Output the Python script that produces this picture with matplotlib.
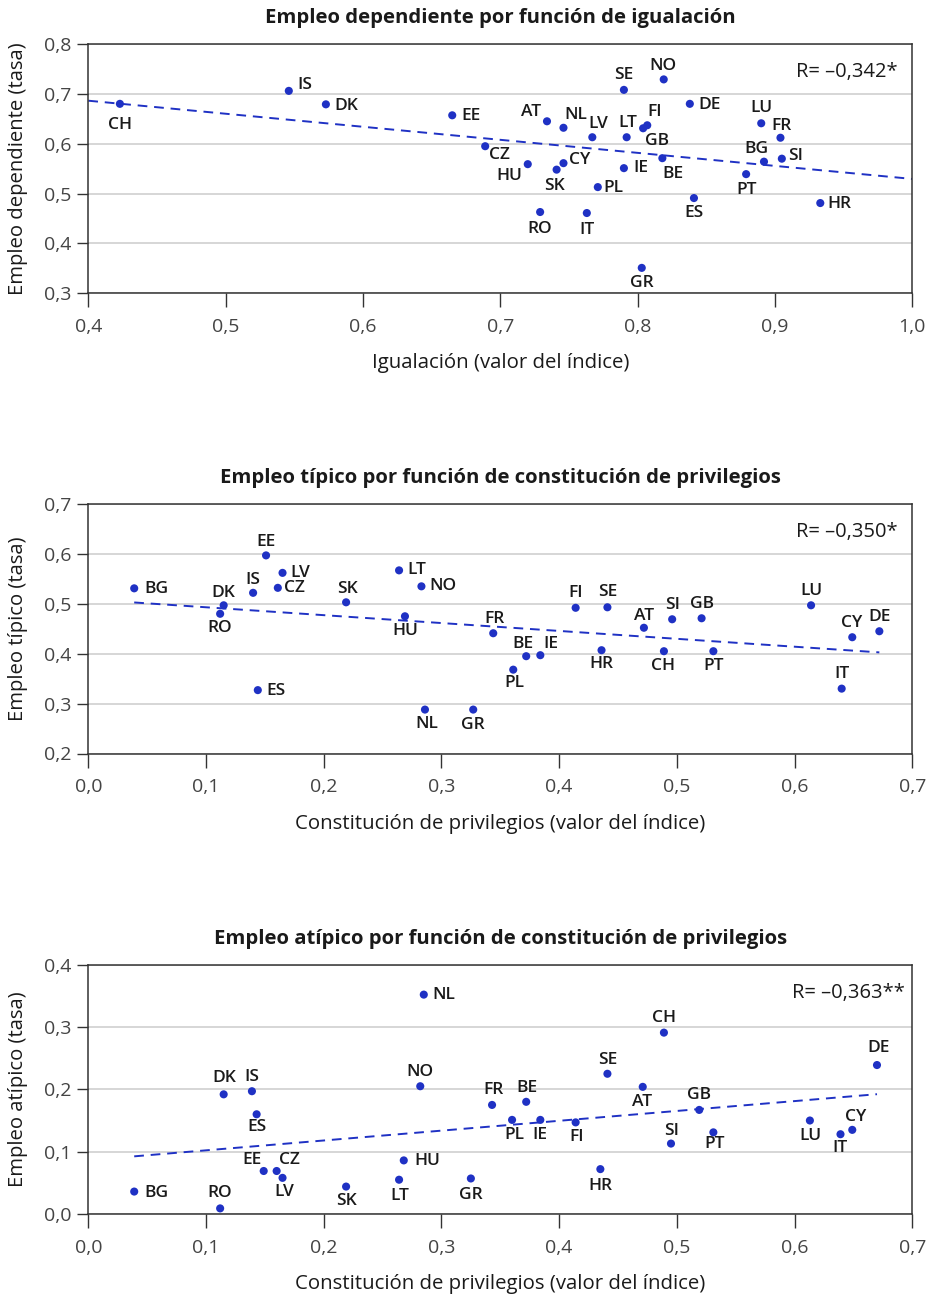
import numpy as np
import matplotlib
matplotlib.use("Agg")
import matplotlib.pyplot as plt
from matplotlib.ticker import FuncFormatter, MultipleLocator

plt.rcParams['font.family'] = ['Open Sans', 'DejaVu Sans']

# ---------------- DATA ----------------
# Panel 1: Empleo dependiente vs Igualación
p1_countries = ["CH", "IS", "DK", "EE", "CZ", "HU", "SK", "CY", "AT", "NL", "LV", "RO", "IT",
                "PL", "IE", "SE", "LT", "NO", "FI", "GB", "GR", "BE", "DE", "ES", "LU", "PT",
                "BG", "SI", "FR", "HR"]
p1_x = [0.423, 0.546, 0.573, 0.665, 0.689, 0.720, 0.741, 0.746, 0.734, 0.746, 0.767, 0.729, 0.763,
        0.771, 0.790, 0.790, 0.792, 0.819, 0.807, 0.804, 0.803, 0.818, 0.838, 0.841, 0.890, 0.879,
        0.892, 0.905, 0.904, 0.933]
p1_y = [0.680, 0.706, 0.679, 0.657, 0.595, 0.559, 0.548, 0.561, 0.645, 0.632, 0.613, 0.463, 0.461,
        0.513, 0.551, 0.708, 0.613, 0.729, 0.637, 0.631, 0.351, 0.571, 0.680, 0.491, 0.641, 0.539,
        0.564, 0.570, 0.612, 0.481]
p1_r_text = "R= \u20130,342*"

# Panel 2: Empleo típico vs Constitución de privilegios
p2_countries = ["BG", "DK", "RO", "IS", "ES", "EE", "LV", "CZ", "SK", "LT", "NO", "HU", "NL", "GR",
                "FR", "PL", "BE", "IE", "FI", "SE", "HR", "AT", "CH", "SI", "GB", "PT", "LU", "CY",
                "DE", "IT"]
p2_x = [0.039, 0.115, 0.112, 0.140, 0.144, 0.151, 0.165, 0.161, 0.219, 0.264, 0.283, 0.269, 0.286,
        0.327, 0.344, 0.361, 0.372, 0.384, 0.414, 0.441, 0.436, 0.472, 0.489, 0.496, 0.521, 0.531,
        0.614, 0.649, 0.672, 0.640]
p2_y = [0.531, 0.497, 0.480, 0.522, 0.327, 0.597, 0.562, 0.532, 0.503, 0.567, 0.535, 0.475, 0.288,
        0.288, 0.441, 0.368, 0.395, 0.397, 0.492, 0.493, 0.407, 0.452, 0.405, 0.469, 0.471, 0.405,
        0.497, 0.433, 0.445, 0.330]
p2_r_text = "R= \u20130,350*"

# Panel 3: Empleo atípico vs Constitución de privilegios
p3_countries = ["BG", "RO", "DK", "IS", "ES", "EE", "CZ", "LV", "SK", "LT", "HU", "NO", "NL", "GR",
                "FR", "PL", "BE", "IE", "FI", "HR", "SE", "AT", "CH", "SI", "GB", "PT", "LU", "IT",
                "CY", "DE"]
p3_x = [0.039, 0.112, 0.115, 0.139, 0.143, 0.149, 0.160, 0.165, 0.219, 0.264, 0.268, 0.282, 0.285,
        0.325, 0.343, 0.360, 0.372, 0.384, 0.414, 0.435, 0.441, 0.471, 0.489, 0.495, 0.519, 0.531,
        0.613, 0.639, 0.649, 0.670]
p3_y = [0.036, 0.009, 0.192, 0.197, 0.160, 0.069, 0.069, 0.058, 0.044, 0.055, 0.086, 0.205, 0.352,
        0.057, 0.175, 0.151, 0.180, 0.151, 0.147, 0.072, 0.225, 0.204, 0.291, 0.113, 0.167, 0.131,
        0.150, 0.128, 0.135, 0.239]
p3_r_text = "R= \u20130,363**"

titles = ["Empleo dependiente por función de igualación",
          "Empleo típico por función de constitución de privilegios",
          "Empleo atípico por función de constitución de privilegios"]
xlabels = ["Igualación (valor del índice)",
           "Constitución de privilegios (valor del índice)",
           "Constitución de privilegios (valor del índice)"]
ylabels = ["Empleo dependiente (tasa)", "Empleo típico (tasa)", "Empleo atípico (tasa)"]

# ---------------- LABEL OFFSETS (pixels, +y = down) ----------------
p1_off = {"CH": (0, 21), "IS": (16, -6), "DK": (20, 2), "EE": (19, 1), "CZ": (14, 9),
          "HU": (-18, 12), "SK": (-2, 16), "CY": (16, -3), "AT": (-16, -9), "NL": (12, -13),
          "LV": (6, -13), "RO": (0, 17), "IT": (0, 17), "PL": (16, 1), "IE": (17, 0),
          "SE": (0, -15), "LT": (1, -14), "NO": (-1, -13), "FI": (7, -13), "GB": (14, 13),
          "GR": (0, 15), "BE": (11, 16), "DE": (20, 1), "ES": (0, 15), "LU": (0, -15),
          "PT": (0, 16), "BG": (-8, -13), "SI": (14, -3), "FR": (1, -12), "HR": (19, 1)}
p2_off = {"BG": (22, 1), "DK": (0, -12), "RO": (0, 14), "IS": (0, -13), "ES": (18, 1),
          "EE": (0, -13), "LV": (18, 0), "CZ": (17, 0), "SK": (1, -13), "LT": (18, 0),
          "NO": (22, 0), "HU": (0, 15), "NL": (2, 14), "GR": (0, 15), "FR": (1, -14),
          "PL": (1, 13), "BE": (-3, -12), "IE": (11, -11), "FI": (0, -15), "SE": (0, -15),
          "HR": (0, 14), "AT": (0, -12), "CH": (-1, 15), "SI": (0, -14), "GB": (0, -14),
          "PT": (0, 15), "LU": (0, -14), "CY": (-1, -14), "DE": (0, -14), "IT": (0, -15)}
p3_off = {"BG": (22, 1), "RO": (0, -15), "DK": (1, -16), "IS": (0, -14), "ES": (0, 13),
          "EE": (-12, -11), "CZ": (13, -11), "LV": (2, 14), "SK": (0, 14), "LT": (1, 16),
          "HU": (24, 1), "NO": (0, -14), "NL": (20, 0), "GR": (0, 17), "FR": (1, -15),
          "PL": (2, 15), "BE": (1, -14), "IE": (0, 15), "FI": (1, 15), "HR": (0, 17),
          "SE": (0, -14), "AT": (-1, 15), "CH": (0, -15), "SI": (1, -13), "GB": (0, -15),
          "PT": (1, 12), "LU": (1, 15), "IT": (0, 14), "CY": (3, -13), "DE": (2, -17)}

# ---------------- STYLE ----------------
W, H = 931, 1295
DOT = "#1f31c4"
GRID = "#d6d6d6"
SPINE = "#333333"
TICKC = "#444444"
TXT = "#1a1a1a"

fig = plt.figure(figsize=(W / 100, H / 100), dpi=100)

def rect(top, bottom, left=88.3, right=912.3):
    return [left / W, 1 - bottom / H, (right - left) / W, (bottom - top) / H]

panels = [
    dict(rect=rect(44, 293.3), xlim=(0.4, 1.0), ylim=(0.3, 0.8), yl=0.1,
         c=p1_countries, x=p1_x, y=p1_y, off=p1_off, r=p1_r_text, rpad=15, full=True),
    dict(rect=rect(504, 753.5), xlim=(0.0, 0.7), ylim=(0.2, 0.7), yl=0.1,
         c=p2_countries, x=p2_x, y=p2_y, off=p2_off, r=p2_r_text, rpad=15, full=False),
    dict(rect=rect(964.7, 1214), xlim=(0.0, 0.7), ylim=(0.0, 0.4), yl=0.1,
         c=p3_countries, x=p3_x, y=p3_y, off=p3_off, r=p3_r_text, rpad=7, full=False),
]

fmt = FuncFormatter(lambda v, p: f"{v:.1f}".replace(".", ","))

for i, p in enumerate(panels):
    ax = fig.add_axes(p["rect"])
    ax.set_xlim(*p["xlim"])
    ax.set_ylim(*p["ylim"])
    ax.xaxis.set_major_locator(MultipleLocator(0.1))
    ax.yaxis.set_major_locator(MultipleLocator(p["yl"]))
    ax.xaxis.set_major_formatter(fmt)
    ax.yaxis.set_major_formatter(fmt)
    ax.grid(axis="y", color=GRID, linewidth=1.4, zorder=0)
    ax.set_axisbelow(True)
    for s in ax.spines.values():
        s.set_color(SPINE)
        s.set_linewidth(1.1)
    ax.tick_params(axis="x", length=10, width=1.0, color=SPINE, pad=8,
                   labelsize=14, labelcolor=TICKC)
    ax.tick_params(axis="y", length=8, width=1.0, color=SPINE, pad=4,
                   labelsize=14, labelcolor=TICKC)

    x = np.array(p["x"])
    y = np.array(p["y"])
    # regression line
    k, b = np.polyfit(x, y, 1)
    if p["full"]:
        lx = np.array(p["xlim"])
    else:
        lx = np.array([x.min(), x.max()])
    ax.plot(lx, k * lx + b, color=DOT, linestyle=(0, (5, 3.5)), linewidth=1.4, zorder=2)

    ax.scatter(x, y, s=34, color=DOT, edgecolors="none", zorder=3)
    for name, xv, yv in zip(p["c"], x, y):
        dx, dy = p["off"][name]
        ax.annotate(name, (xv, yv), xytext=(dx, -dy), textcoords="offset pixels",
                    ha="center", va="center", fontsize=12.5, fontweight="semibold",
                    color=TXT, zorder=4)

    ax.text(1 - p["rpad"] / 824, 1 - 28 / 249.3, p["r"], transform=ax.transAxes,
            ha="right", va="center", fontsize=14.5, color=TXT)

    ax.text(0.5, 1 + 21 / 249.3, titles[i], transform=ax.transAxes,
            ha="center", va="baseline", fontsize=14.6, fontweight="bold", color=TXT)

    ax.set_xlabel(xlabels[i], fontsize=14.7, color=TXT)
    ax.xaxis.set_label_coords(0.5, -70 / 249.3)
    ax.xaxis.label.set_va("center")
    ax.set_ylabel(ylabels[i], fontsize=14.6, color=TXT)
    ax.yaxis.set_label_coords(-(88.3 - 18) / 824, 0.5)
    ax.yaxis.label.set_va("center")

fig.savefig("out.png", dpi=100)
